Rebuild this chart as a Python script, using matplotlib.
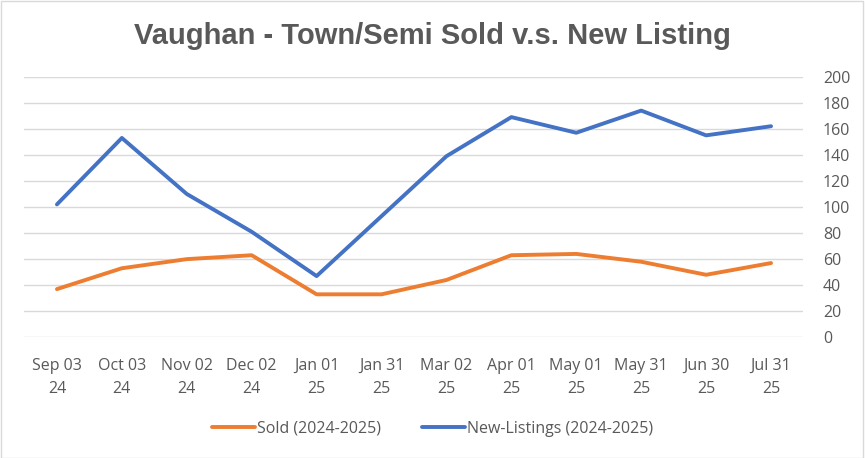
"""
Vaughan town/semi sold vs new listings, line chart in the Excel style.
"""

import matplotlib.pyplot as plt
import matplotlib.ticker as mticker
from matplotlib.patches import Rectangle

OUT = "out.png"

DATES = ["Sep 03\n24", "Oct 03\n24", "Nov 02\n24", "Dec 02\n24", "Jan 01\n25", "Jan 31\n25",
         "Mar 02\n25", "Apr 01\n25", "May 01\n25", "May 31\n25", "Jun 30\n25", "Jul 31\n25"]
SOLD = [37, 53, 60, 63, 33, 33, 44, 63, 64, 58, 48, 57]
NEW_LISTINGS = [102, 153, 110, 81, 47, 93, 139, 169, 157, 174, 155, 162]

ORANGE = "#ED7D31"
BLUE   = "#4472C4"
TEXT   = "#595959"
GRID   = "#D9D9D9"

plt.rcParams["font.family"] = ["Open Sans", "DejaVu Sans"]

fig = plt.figure(figsize=(8.65, 4.58), dpi=100)
ax = fig.add_axes([0.0283, 0.2635, 0.9006, 0.569])

x = range(len(DATES))
ax.plot(x, SOLD, color=ORANGE, linewidth=2.8, label="Sold (2024-2025)", solid_capstyle="round")
ax.plot(x, NEW_LISTINGS, color=BLUE, linewidth=2.8, label="New-Listings (2024-2025)", solid_capstyle="round")

ax.set_xlim(-0.5, len(DATES) - 0.5)
ax.set_ylim(0, 200)
ax.yaxis.set_major_locator(mticker.MultipleLocator(20))
ax.yaxis.tick_right()
ax.grid(axis="y", color=GRID, linewidth=1)
ax.set_axisbelow(True)
for s in ax.spines.values():
    s.set_visible(False)
ax.tick_params(axis="both", length=0, colors=TEXT, labelsize=11.5)
ax.tick_params(axis="y", pad=14)
ax.tick_params(axis="x", pad=15)
ax.set_xticks(list(x))
ax.set_xticklabels(DATES, linespacing=1.55)

fig.text(0.5, 0.921, "Vaughan - Town/Semi Sold v.s. New Listing", ha="center", va="center",
         fontsize=21, fontweight="bold", color=TEXT, family=["Liberation Sans", "DejaVu Sans"])

fig.legend(loc="center", bbox_to_anchor=(0.5, 0.064), ncol=2, frameon=False,
           fontsize=11.5, labelcolor=TEXT, handlelength=2.7, handletextpad=0.1, columnspacing=2.6)

fig.patches.append(Rectangle((0.001, 0.001), 0.997, 0.997, transform=fig.transFigure,
                             fill=False, edgecolor="#D9D9D9", linewidth=1))

fig.savefig(OUT, dpi=100)
